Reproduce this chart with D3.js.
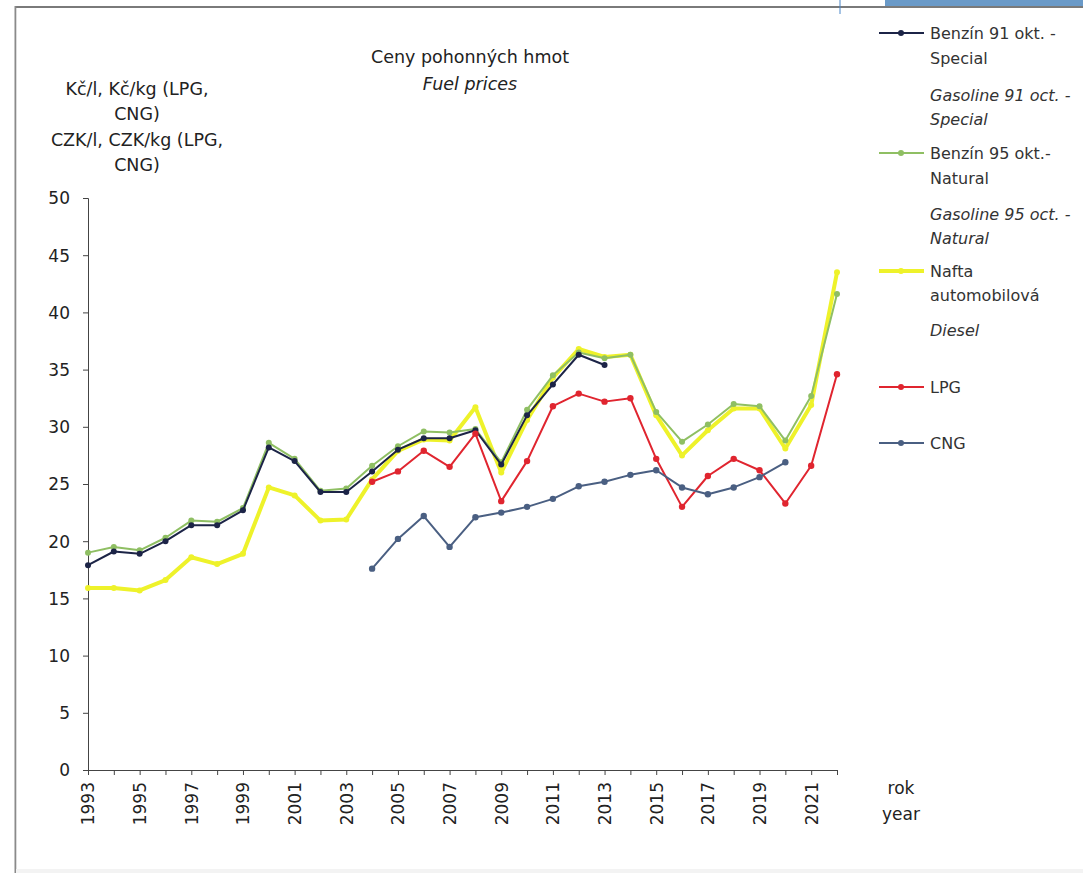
<!DOCTYPE html>
<html>
<head>
<meta charset="utf-8">
<script src="https://cdn.jsdelivr.net/npm/d3@7"></script>
<style>
  body { margin: 0; background: #fff; }
  svg { display: block; font-family: "DejaVu Sans", sans-serif; }
  .axis path, .axis line { stroke: #444; }
  .axis text { fill: #222; font-size: 17px; font-family: "DejaVu Sans", sans-serif; }
</style>
</head>
<body>
<svg id="chart" width="1083" height="873"></svg>
<script>
// Data
const years = d3.range(1993, 2023);
const benzin91 = [17.9, 19.1, 18.9, 20.0, 21.4, 21.4, 22.7, 28.2, 27.0, 24.3, 24.3, 26.1, 28.0, 29.0, 29.0, 29.7, 26.7, 31.0, 33.7, 36.3, 35.4];
const benzin95 = [19.0, 19.5, 19.2, 20.3, 21.8, 21.7, 22.9, 28.6, 27.2, 24.4, 24.6, 26.6, 28.3, 29.6, 29.5, 29.8, 26.9, 31.5, 34.5, 36.5, 36.0, 36.3, 31.3, 28.7, 30.2, 32.0, 31.8, 28.8, 32.7, 41.6];
const diesel = [15.9, 15.9, 15.7, 16.6, 18.6, 18.0, 18.9, 24.7, 24.0, 21.8, 21.9, 25.4, 27.9, 28.9, 28.8, 31.7, 26.0, 30.6, 34.3, 36.8, 36.1, 36.3, 31.0, 27.5, 29.7, 31.6, 31.6, 28.1, 31.9, 43.5];
const lpg = [25.2, 26.1, 27.9, 26.5, 29.4, 23.5, 27.0, 31.8, 32.9, 32.2, 32.5, 27.2, 23.0, 25.7, 27.2, 26.2, 23.3, 26.6, 34.6];
const cng = [17.6, 20.2, 22.2, 19.5, 22.1, 22.5, 23.0, 23.7, 24.8, 25.2, 25.8, 26.2, 24.7, 24.1, 24.7, 25.6, 26.9];
const yTicks = [0, 5, 10, 15, 20, 25, 30, 35, 40, 45, 50];

const series = [
  {name: "diesel", start: 1993, values: diesel, color: "#eef22a", width: 4, r: 3},
  {name: "benzin95", start: 1993, values: benzin95, color: "#8fbf63", width: 2, r: 3},
  {name: "benzin91", start: 1993, values: benzin91, color: "#1c2447", width: 2, r: 3},
  {name: "lpg", start: 2004, values: lpg, color: "#e0252f", width: 2, r: 3.2},
  {name: "cng", start: 2004, values: cng, color: "#4a5f82", width: 2, r: 3.2}
];

const svg = d3.select("#chart");

// frame around the page
svg.append("rect").attr("x", 885).attr("y", 0).attr("width", 198).attr("height", 6).attr("fill", "#6a9ac8");
svg.append("rect").attr("x", 15).attr("y", 6).attr("width", 1068).attr("height", 2).attr("fill", "#7a7a7a");
svg.append("rect").attr("x", 14.5).attr("y", 6).attr("width", 1.8).attr("height", 867).attr("fill", "#8a8a8a");
svg.append("path").attr("d", "M840,0 L840,14").attr("stroke", "#4a86c8").attr("fill", "none");
svg.append("rect").attr("x", 16).attr("y", 869).attr("width", 1067).attr("height", 4).attr("fill", "#f3f3f3");

const x = d3.scaleLinear().domain([1993, 2022]).range([88, 837]);
const y = d3.scaleLinear().domain([0, 50]).range([770, 198]);

// axes
svg.append("g").attr("class", "axis").attr("transform", "translate(88,0)")
  .call(d3.axisLeft(y).tickValues(yTicks).tickSize(5).tickPadding(13))
  .call(g => g.selectAll("text").attr("dy", "0.35em"));

const xAxis = svg.append("g").attr("class", "axis").attr("transform", "translate(0,770)")
  .call(d3.axisBottom(x).tickValues(years).tickSize(5).tickFormat(d => d % 2 ? d : ""));
xAxis.selectAll("text")
  .attr("transform", "rotate(-90)")
  .attr("text-anchor", "end")
  .attr("x", -12).attr("y", 0).attr("dy", "0.35em");

// lines
const line = d3.line().x(d => x(d[0])).y(d => y(d[1]));
series.forEach(s => {
  const pts = s.values.map((v, i) => [s.start + i, v]);
  svg.append("path").datum(pts)
    .attr("d", line).attr("fill", "none")
    .attr("stroke", s.color).attr("stroke-width", s.width).attr("stroke-linejoin", "round");
  svg.append("g").selectAll("circle").data(pts).join("circle")
    .attr("cx", d => x(d[0])).attr("cy", d => y(d[1])).attr("r", s.r)
    .attr("fill", s.color);
});

// titles
const title = svg.append("text").attr("text-anchor", "middle").attr("fill", "#222").attr("font-size", 17.5);
title.append("tspan").attr("x", 470).attr("y", 63).text("Ceny pohonných hmot");
title.append("tspan").attr("x", 470).attr("y", 90).attr("font-style", "italic").text("Fuel prices");

const yTitle = svg.append("text").attr("text-anchor", "middle").attr("fill", "#222").attr("font-size", 17.5);
["Kč/l, Kč/kg (LPG,", "CNG)", "CZK/l, CZK/kg (LPG,", "CNG)"].forEach((t, i) => {
  yTitle.append("tspan").attr("x", 137).attr("y", 95 + i * 25.3).text(t);
});

const xTitle = svg.append("text").attr("text-anchor", "middle").attr("fill", "#222").attr("font-size", 17);
xTitle.append("tspan").attr("x", 901).attr("y", 794).text("rok");
xTitle.append("tspan").attr("x", 901).attr("y", 820).text("year");

// legend
const legend = [
  {color: "#1c2447", w: 2, y: 33, lines: [["Benzín 91 okt. -", 0, false], ["Special", 25, false], ["Gasoline 91 oct. -", 62, true], ["Special", 86, true]]},
  {color: "#8fbf63", w: 2, y: 153, lines: [["Benzín 95 okt.-", 0, false], ["Natural", 25, false], ["Gasoline 95 oct. -", 61, true], ["Natural", 85, true]]},
  {color: "#eef22a", w: 4, y: 271, lines: [["Nafta", 0, false], ["automobilová", 24, false], ["Diesel", 59, true]]},
  {color: "#e0252f", w: 2, y: 387, lines: [["LPG", 0, false]]},
  {color: "#4a5f82", w: 2, y: 443, lines: [["CNG", 0, false]]}
];
legend.forEach(l => {
  const g = svg.append("g");
  g.append("line").attr("x1", 879).attr("x2", 924).attr("y1", l.y).attr("y2", l.y)
    .attr("stroke", l.color).attr("stroke-width", l.w);
  g.append("circle").attr("cx", 901).attr("cy", l.y).attr("r", 3).attr("fill", l.color);
  l.lines.forEach(([t, dy, it]) => {
    g.append("text").attr("x", 930).attr("y", l.y + dy + 6)
      .attr("font-size", 16).attr("fill", "#333")
      .attr("font-style", it ? "italic" : null).text(t);
  });
});
</script>
</body>
</html>
